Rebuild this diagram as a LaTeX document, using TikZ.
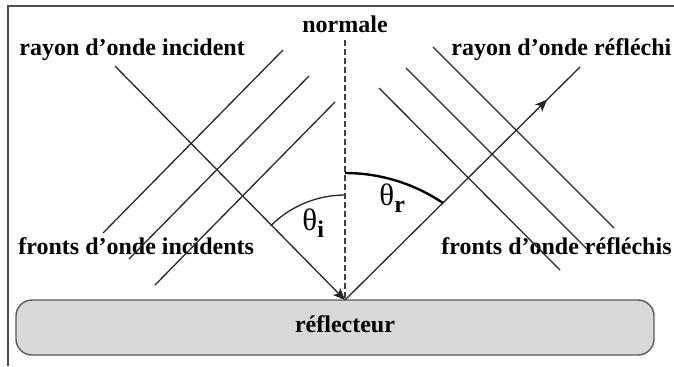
\documentclass[tikz,border=0pt]{standalone}
\usepackage{fontspec}
\setmainfont{Liberation Serif}
\usetikzlibrary{arrows.meta}
\usetikzlibrary{decorations.markings}
\usepackage{xcolor}
\definecolor{reflgray}{RGB}{217,217,217}
\newcommand{\lbl}{\fontsize{12}{14}\selectfont\bfseries}
\newcommand{\thet}[1]{\fontsize{15.5}{17}\selectfont θ\raisebox{-3.5pt}{\fontsize{12}{14}\selectfont\bfseries #1}}

\begin{document}
\begin{tikzpicture}[x=0.5pt,y=-0.5pt,
        ray/.style={line width=0.65pt, color=black!85},
        front/.style={line width=0.65pt, color=black!85},
        txt/.style={anchor=base west, inner sep=0pt},
        midarrow/.style={postaction={decorate}, decoration={markings,
            mark=at position 0.86 with {\arrow{Stealth[length=6pt,width=5pt,inset=1.5pt]}}}}]
                \useasboundingbox (0,0) rectangle (674,366);
                \draw[line width=0.7pt, color=black!70] (8,366) -- (8,6) -- (674,6);
                \draw[rounded corners=8pt, fill=reflgray, draw=black!65, line width=0.7pt] (16,300) rectangle (654,355);
                \node[anchor=base, inner sep=0pt] (refl) at (345,332) {\lbl réflecteur};

                \node[anchor=base, inner sep=0pt] (normtxt) at (345,32) {\lbl normale};
                \node[txt] (inctxt) at (19,55) {\lbl rayon d’onde incident};
                \node[txt] (reftxt) at (451,55) {\lbl rayon d’onde réfléchi};
                \node[txt] (incfront) at (18,254) {\lbl fronts d’onde incidents};
                \node[txt] (reffront) at (441,254) {\lbl fronts d’onde réfléchis};

                \coordinate (hit) at (345,300);
                \coordinate (inc) at (115,66);
                \coordinate (out) at (580,67);
                \coordinate (nrm) at (345,40);

                \draw[line width=0.6pt, color=black!75, dash pattern=on 3pt off 1.5pt] (nrm) -- (hit);
                \draw[ray, -{Stealth[length=6pt,width=5pt,inset=1.5pt]}] (inc) -- (hit);
                \draw[ray, midarrow] (hit) -- (out);

                \foreach \d in {0,26,52}
                    \draw[front] (283+\d,50+\d) -- (103+\d,233+\d);
                \foreach \xa/\ya/\xb/\yb in {433/47/614/228, 406/68/588/250, 379/88/560/270}
                    \draw[front] (\xa,\ya) -- (\xb,\yb);

                \draw[ray] (345,195) arc[start angle=90, end angle=135, radius=52.5pt];
                \draw[line width=1.2pt] (345,173) arc[start angle=90, end angle=56, radius=87.5pt];
                \node[txt] (thi) at (302,230) {\thet{i}};
                \node[txt] (thr) at (379,205) {\thet{r}};

            \end{tikzpicture}
\end{document}
